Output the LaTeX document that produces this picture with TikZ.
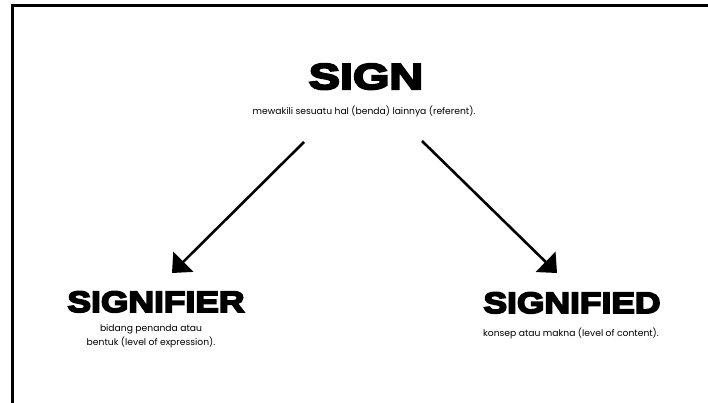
\documentclass[tikz,border=0pt]{standalone}
\usepackage{fontspec}
\usetikzlibrary{arrows.meta}
\setmainfont{Poppins}
\newfontfamily\titlefont{Liberation Sans Bold}[FakeBold=6,FakeStretch=1.3]
\newfontfamily\headfont{Liberation Sans Bold}[FakeBold=6,FakeStretch=1.2]
\tikzset{
  title/.style={font=\titlefont\fontsize{36}{36}\selectfont, inner sep=0pt, anchor=base},
  subtitle/.style={font=\headfont\fontsize{29.5}{30}\selectfont, inner sep=0pt, anchor=base},
  desc/.style={font=\fontsize{9.2}{14}\selectfont, inner sep=0pt, anchor=base, align=center, text=black},
  link/.style={line width=2.6pt, -{Triangle[length=16pt,width=28pt]}}
}
\begin{document}
\begin{tikzpicture}[x=1pt,y=-1pt]
      \useasboundingbox (0,0) rectangle (708,403);
      \draw[line width=3pt] (12.5,403) |- (708,6);
      \draw
        (366,89) node[title] (sign){SIGN}
        (364,115) node[desc] (signtext){mewakili sesuatu hal (benda) lainnya (referent).}
        (156,312) node[subtitle] (signifier){SIGNIFIER}
        (151,345) node[desc] (signifiertext){bidang penanda atau\\bentuk (level of expression).}
        (572,313) node[subtitle] (signified){SIGNIFIED}
        (571,336) node[desc] (signifiedtext){konsep atau makna (level of content).};
      \coordinate (a0) at (304,142);
      \coordinate (a1) at (172,273);
      \coordinate (b0) at (422,141);
      \coordinate (b1) at (557,273);
      \begin{scope}[link]
        \draw (a0) to (a1);
        \draw (b0) to (b1);
      \end{scope}
    \end{tikzpicture}
\end{document}
